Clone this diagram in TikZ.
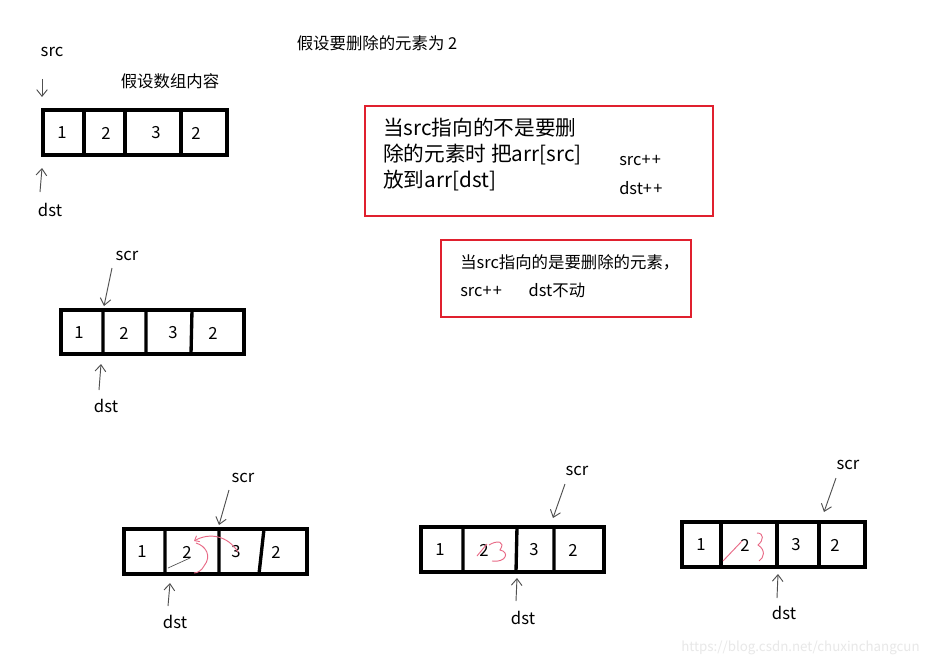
\documentclass[tikz,border=0pt]{standalone}
\usepackage{fontspec}
\setmainfont{Noto Sans CJK SC}
\usetikzlibrary{arrows.meta}
\definecolor{redbox}{HTML}{E0202E}
\definecolor{ink}{HTML}{505050}
\definecolor{pinkink}{HTML}{E86A86}
\definecolor{wm}{HTML}{E8E8E8}
\begin{document}
\begin{tikzpicture}[x=0.75pt,y=-0.75pt,
  cell/.style={draw=black,line width=2.5pt},
  num/.style={font=\fontsize{12.5}{14}\selectfont,inner sep=0pt},
  lbl/.style={font=\fontsize{12.5}{14}\selectfont,inner sep=0pt},
  txt/.style={font=\fontsize{12.3}{14}\selectfont,inner sep=0pt,anchor=west},
  big/.style={font=\fontsize{15.5}{18}\selectfont,inner sep=0pt,anchor=west},
  rbox/.style={draw=redbox,line width=1.6pt},
  ptr/.style={draw=ink,line width=0.7pt,-{Straight Barb[length=5pt,width=8pt]}},
  hand/.style={draw=pinkink,line width=0.7pt}]
\useasboundingbox (0,0) rectangle (950,667);
\fill[white] (0,0) rectangle (950,667);

% title
\node[txt,anchor=center] (title) at (377,43) {假设要删除的元素为 2};

% ---------- array 1 ----------
\node[txt,anchor=center] (content) at (170,81) {假设数组内容};
\draw[cell] (43,110) rectangle (227,155);
\draw[cell] (84,110) -- (84,155) (125,110) -- (125,155) (181,110) -- (181,156);
\node[num] (a1n1) at (62,133) {1};
\node[num] (a1n2) at (106,133) {2};
\node[num] (a1n3) at (156,133) {3};
\node[num] (a1n4) at (196,133) {2};
\node[lbl] (src1) at (52,52) {src};
\coordinate (src1s) at (42,79);
\coordinate (src1t) at (42,97);
\draw[ptr] (src1s) -- (src1t);
\node[lbl] (dst1) at (50,210) {dst};
\coordinate (dst1s) at (40,192);
\coordinate (dst1t) at (42,168);
\draw[ptr] (dst1s) -- (dst1t);

% ---------- array 2 ----------
\draw[cell] (61,310) rectangle (244,354);
\draw[cell] (103,310) -- (103,354) (146,310) -- (146,354) (192,310) -- (191,354);
\node[num] (a2n1) at (79,333) {1};
\node[num] (a2n2) at (124,333) {2};
\node[num] (a2n3) at (173,333) {3};
\node[num] (a2n4) at (213,333) {2};
\node[lbl] (scr2) at (127,256) {scr};
\coordinate (scr2s) at (112,268);
\coordinate (scr2t) at (104,306);
\draw[ptr] (scr2s) -- (scr2t);
\node[lbl] (dst2) at (106,406) {dst};
\coordinate (dst2s) at (99,390);
\coordinate (dst2t) at (101,364);
\draw[ptr] (dst2s) -- (dst2t);

% ---------- array 3 ----------
\draw[cell] (124,529) rectangle (307,574);
\draw[cell] (165,529) -- (165,574) (219,529) -- (219,574) (264,529) -- (259,574);
\node[num] (a3n1) at (142,552) {1};
\node[num] (a3n2) at (187,552) {2};
\node[num] (a3n3) at (236,552) {3};
\node[num] (a3n4) at (276,552) {2};
\node[lbl] (scr3) at (243,478) {scr};
\coordinate (scr3s) at (229,490);
\coordinate (scr3t) at (219,525);
\draw[ptr] (scr3s) -- (scr3t);
\node[lbl] (dst3) at (175,622) {dst};
\coordinate (dst3s) at (168,606);
\coordinate (dst3t) at (170,583);
\draw[ptr] (dst3s) -- (dst3t);
\draw[hand,-{Straight Barb[length=3pt,width=5pt]}] (238,552) .. controls (228,536) and (210,532) .. (194,541);
\draw[hand] (196,543) .. controls (206,546) and (212,556) .. (204,566) .. controls (202,570) and (198,573) .. (194,573);
\draw[ink,line width=0.5pt] (168,568) -- (190,558);

% ---------- array 4 ----------
\draw[cell] (421,527) rectangle (604,572);
\draw[cell] (463,527) -- (463,572) (517,527) -- (516,572) (554,527) -- (554,572);
\node[num] (a4n1) at (440,550) {1};
\node[num] (a4n2) at (484,550) {2};
\node[num] (a4n3) at (534,550) {3};
\node[num] (a4n4) at (573,550) {2};
\node[lbl] (scr4) at (577,471) {scr};
\coordinate (scr4s) at (565,484);
\coordinate (scr4t) at (553,518);
\draw[ptr] (scr4s) -- (scr4t);
\node[lbl] (dst4) at (523,618) {dst};
\coordinate (dst4s) at (516,601);
\coordinate (dst4t) at (517,578);
\draw[ptr] (dst4s) -- (dst4t);
\draw[hand] (489,545) .. controls (497,540) and (506,541) .. (500,550) .. controls (510,552) and (506,563) .. (492,561);
\draw[hand] (477,556) -- (487,544);

% ---------- array 5 ----------
\draw[cell] (682,522) rectangle (865,567);
\draw[cell] (721,522) -- (721,567) (777,522) -- (777,567) (819,522) -- (819,567);
\node[num] (a5n1) at (701,545) {1};
\node[num] (a5n2) at (745,545) {2};
\node[num] (a5n3) at (796,545) {3};
\node[num] (a5n4) at (835,545) {2};
\node[lbl] (scr5) at (848,465) {scr};
\coordinate (scr5s) at (836,478);
\coordinate (scr5t) at (824,512);
\draw[ptr] (scr5s) -- (scr5t);
\node[lbl] (dst5) at (784,613) {dst};
\coordinate (dst5s) at (777,598);
\coordinate (dst5t) at (778,574);
\draw[ptr] (dst5s) -- (dst5t);
\draw[hand] (723,561) -- (742,541);
\draw[hand] (757,533) .. controls (764,533) and (764,540) .. (758,545) .. controls (766,550) and (764,558) .. (759,561);

% ---------- red box 1 ----------
\draw[rbox] (365,106) rectangle (713,216);
\node[big] (r1l1) at (383,128) {当src指向的不是要删};
\node[big] (r1l2) at (383,155) {除的元素时 把arr[src]};
\node[big] (r1l3) at (383,181) {放到arr[dst]};
\node[txt] (r1s) at (619,161) {src+\kern1pt+};
\node[txt] (r1d) at (619,188) {dst+\kern1pt+};

% ---------- red box 2 ----------
\draw[rbox] (441,240) rectangle (691,317);
\node[txt] (r2l1) at (460,262) {当src指向的是要删除的元素，};
\node[txt] (r2l2) at (460,290) {src+\kern1pt+\hspace{20pt}dst不动};

% watermark
\node[txt,text=wm,font=\fontsize{10}{12}\selectfont] (wmk) at (681,648) {https://blog.csdn.net/chuxinchangcun};
\end{tikzpicture}
\end{document}
